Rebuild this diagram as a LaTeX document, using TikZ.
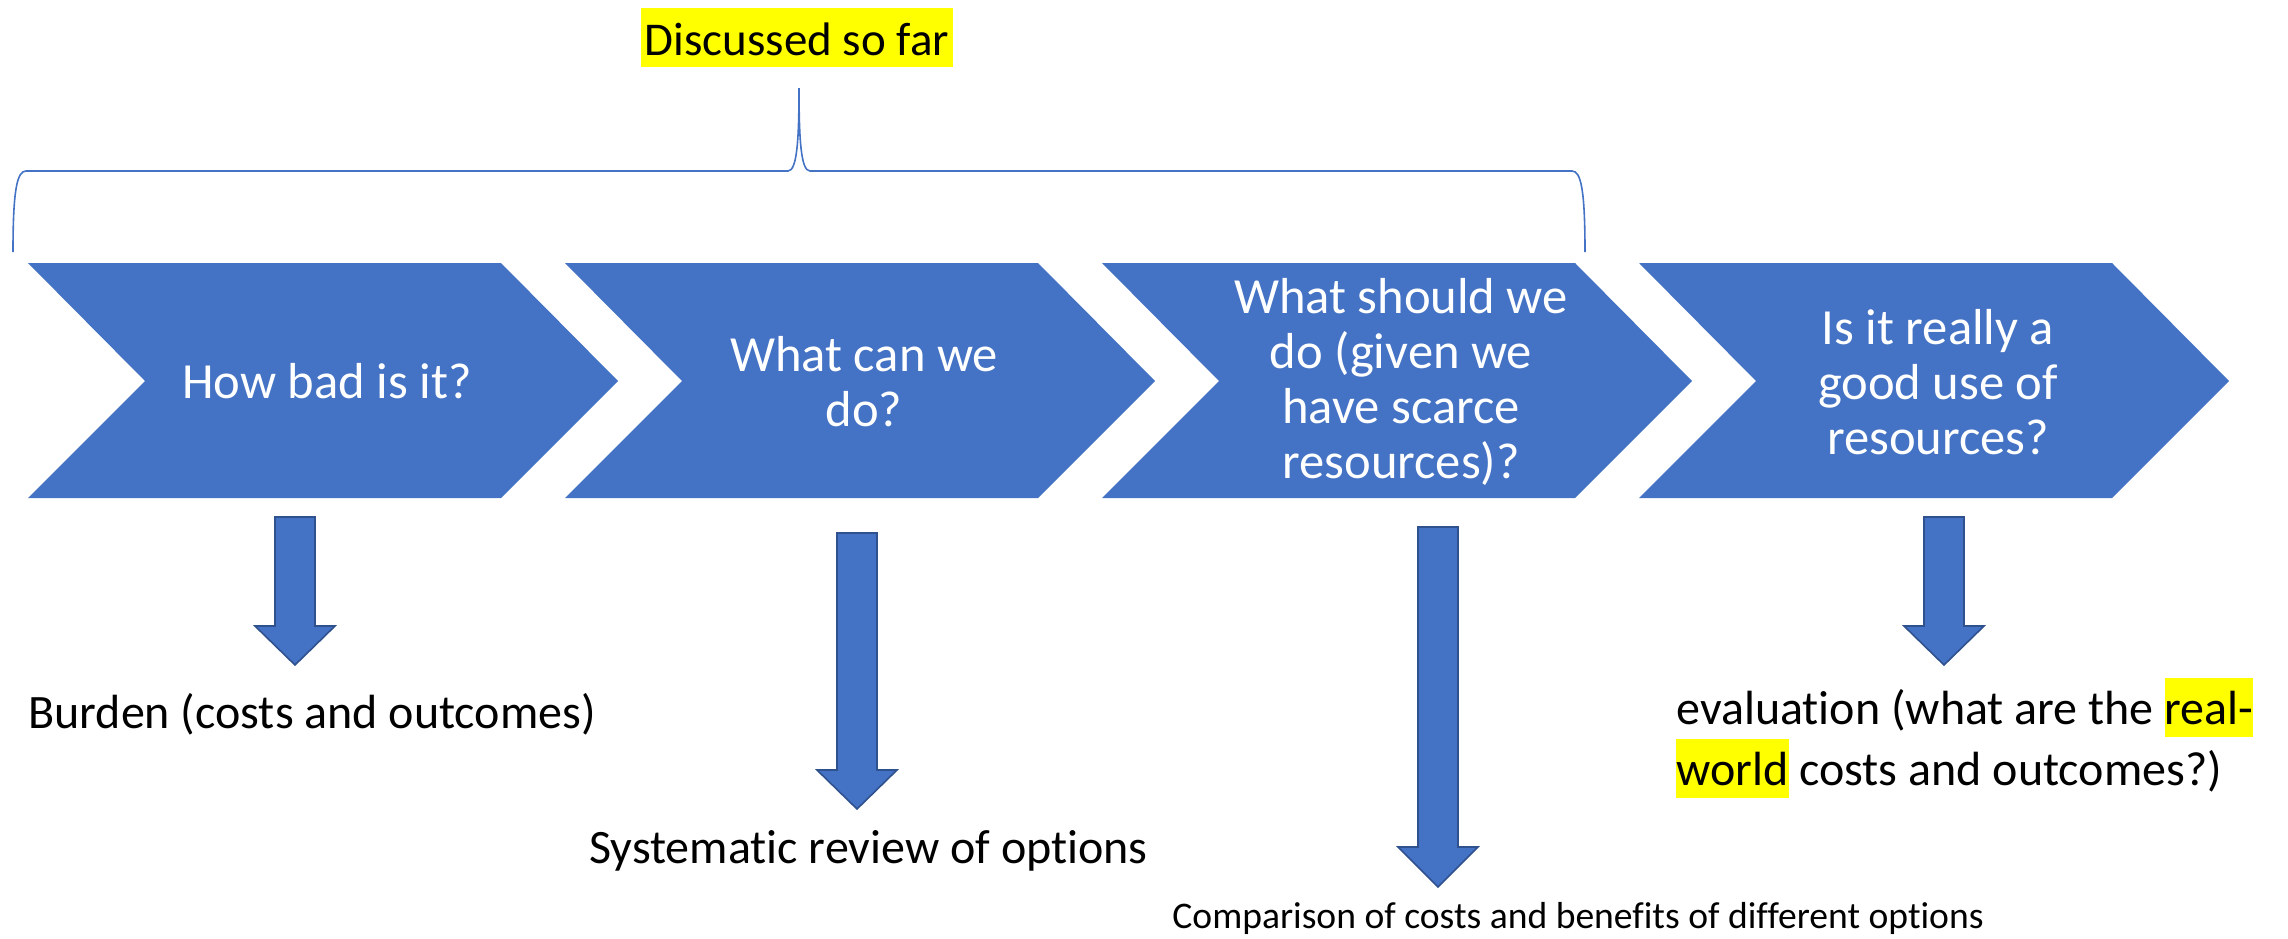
\documentclass[tikz,border=0pt]{standalone}
\usepackage{fontspec}
\setmainfont{Carlito}[Ligatures=NoCommon]
\definecolor{chevblue}{HTML}{4472C4}
\definecolor{edgeblue}{HTML}{2F528F}
\definecolor{hilite}{HTML}{FFFF00}
\newcommand\hl[1]{{\setlength{\fboxsep}{0pt}\colorbox{hilite}{\rule[-6.5pt]{0pt}{29.5pt}#1}}}
% block arrow pointing down: centre x, top, start of head, tip
\newcommand\dnarrow[4]{%
  \filldraw[down] (#1-20,#2) -- (#1+20,#2) -- (#1+20,#3) -- (#1+40,#3)
    -- (#1,#4) -- (#1-40,#3) -- (#1-20,#3) -- cycle;}

\begin{document}
\begin{tikzpicture}[x=0.5pt,y=-0.5pt,
	chev/.style={fill=chevblue},
	down/.style={fill=chevblue, draw=edgeblue, line width=0.8pt},
	ctext/.style={text=white, align=center, font=\fontsize{25.3}{27.5}\selectfont},
	lab/.style={font=\fontsize{24}{28.5}\selectfont, anchor=base west, inner sep=0pt}]

	\useasboundingbox (0,0) rectangle (2288,938);

	% chevrons
	\fill[chev] (28,263) -- (501,263) -- (618,381) -- (501,498) -- (28,498) -- (145,381) -- cycle;
	\fill[chev] (565,263) -- (1038,263) -- (1155,381) -- (1038,498) -- (565,498) -- (682,381) -- cycle;
	\fill[chev] (1102,263) -- (1575,263) -- (1692,381) -- (1575,498) -- (1102,498) -- (1219,381) -- cycle;
	\fill[chev] (1639,263) -- (2112,263) -- (2229,381) -- (2112,498) -- (1639,498) -- (1756,381) -- cycle;

	\node[ctext] (bad) at (327,381) {How bad is it?};
	\node[ctext] (can) at (864,382) {What can we\\do?};
	\node[ctext] (should) at (1401,382) {What should we\\do (given we\\have scarce\\resources)?};
	\node[ctext] (good) at (1938,382) {Is it really a\\good use of\\resources?};

	% brace over the first three
	\draw[chevblue, line width=0.8pt] (13,252) .. controls (13,190) and (17,171) .. (26,171)
		-- (788,171) .. controls (797,171) and (799,140) .. (799,88)
		.. controls (799,140) and (801,171) .. (810,171)
		-- (1572,171) .. controls (1581,171) and (1585,190) .. (1585,252);

	\node[fill=hilite, inner xsep=2pt, inner ysep=0pt, text height=24pt, text depth=5.5pt,
		font=\fontsize{23.5}{27.5}\selectfont] (sofar) at (797,37) {Discussed so far};

	% arrows down
	\dnarrow{295}{517}{626}{665}
	\dnarrow{857}{533}{770}{809}
	\dnarrow{1438}{527}{847}{887}
	\dnarrow{1944}{517}{626}{665}

	\node[lab] (burden) at (28,728) {Burden (costs and outcomes)};
	\node[lab] (review) at (589,863) {Systematic review of options};
	\node[lab, font=\fontsize{18.8}{22}\selectfont] (compare) at (1172,928) {Comparison of costs and benefits of different options};
	\node[lab, align=left] (eval) at (1676,785) {evaluation (what are the \hl{real-}\\\hl{world} costs and outcomes?)};
\end{tikzpicture}
\end{document}
